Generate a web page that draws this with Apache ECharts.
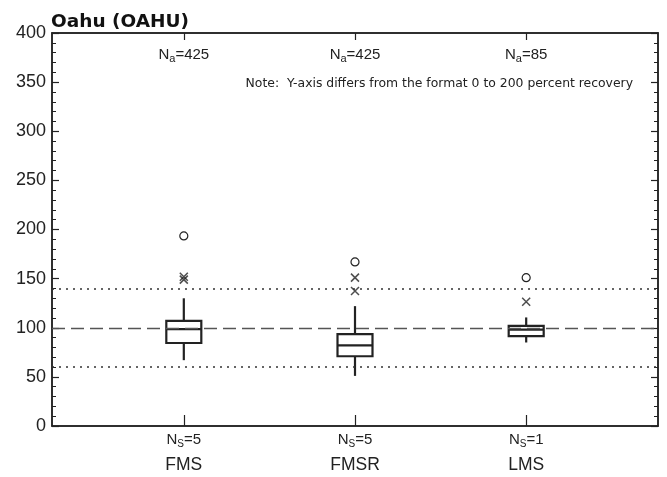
<!DOCTYPE html>
<html>
<head>
<meta charset="utf-8">
<script src="https://cdn.jsdelivr.net/npm/echarts@6/dist/echarts.min.js"></script>
<style>
  html, body { margin: 0; padding: 0; background: #fff; }
  #chart { width: 667px; height: 477px; }
</style>
</head>
<body>
<div id="chart"></div>
<script>
// Percent recovery by sampling method
const categories = ['FMS', 'FMSR', 'LMS'];
const analysisCounts = [425, 425, 85];   // N_a
const siteCounts = [5, 5, 1];            // N_s

// Box statistics per method
const whiskerLow  = [67, 51, 85];
const quartile1   = [84.5, 71, 91.5];
const medians     = [98.5, 82, 98];
const quartile3   = [107, 93.5, 102];
const whiskerHigh = [130, 122, 110.5];

// Outliers: [method index, value]
const crossOutliers  = [[0, 152], [0, 149], [1, 151], [1, 137.5], [2, 126.5]];
const circleOutliers = [[0, 193.5], [1, 167], [2, 151]];

// Reference lines
const targetRecovery = 100;
const recoveryLimits = [60, 140];

const yTicks = { min: 0, max: 400, interval: 50 };

const ink = '#222';
const font = '"Liberation Sans", Arial, sans-serif';
const wideFont = '"DejaVu Sans", sans-serif';
const positions = categories.map((c, i) => i + 1);

const boxData = categories.map((c, i) => [
  positions[i], whiskerLow[i], quartile1[i], medians[i], quartile3[i], whiskerHigh[i]
]);

function renderBox(params, api) {
  const x = api.value(0);
  const pMin = api.coord([x, api.value(1)]);
  const pQ1 = api.coord([x, api.value(2)]);
  const pMed = api.coord([x, api.value(3)]);
  const pQ3 = api.coord([x, api.value(4)]);
  const pMax = api.coord([x, api.value(5)]);
  const half = 17.5;
  const style = { stroke: ink, lineWidth: 2.2, fill: null };
  return {
    type: 'group',
    children: [
      { type: 'line', shape: { x1: pMax[0], y1: pMax[1], x2: pQ3[0], y2: pQ3[1] }, style },
      { type: 'line', shape: { x1: pQ1[0], y1: pQ1[1], x2: pMin[0], y2: pMin[1] }, style },
      { type: 'rect', shape: { x: pQ3[0] - half, y: pQ3[1], width: half * 2, height: pQ1[1] - pQ3[1] }, style },
      { type: 'line', shape: { x1: pMed[0] - half, y1: pMed[1], x2: pMed[0] + half, y2: pMed[1] }, style }
    ]
  };
}

const chart = echarts.init(document.getElementById('chart'), null, { renderer: 'canvas' });

const xCommon = {
  type: 'value',
  min: 0.23,
  max: 3.77,
  splitLine: { show: false },
  axisLine: { show: true, onZero: false, lineStyle: { color: ink, width: 1.5 } }
};

const yCommon = {
  type: 'value',
  min: yTicks.min,
  max: yTicks.max,
  interval: yTicks.interval,
  splitLine: { show: false },
  axisLine: { show: true, onZero: false, lineStyle: { color: ink, width: 1.5 } },
  axisTick: { show: true, inside: true, length: 7, lineStyle: { color: ink, width: 1.2 } },
  minorTick: { show: true, splitNumber: 5, length: 4, lineStyle: { color: ink, width: 1 } }
};

chart.setOption({
  animation: false,
  backgroundColor: '#fff',
  title: {
    text: 'Oahu (OAHU)',
    left: 51,
    top: 13,
    padding: 0,
    textStyle: { fontFamily: wideFont, fontSize: 18.5, fontWeight: 'bold', color: '#111' }
  },
  grid: {
    left: 52, right: 9, top: 33, bottom: 51,
    show: true, borderColor: ink, borderWidth: 1.5, backgroundColor: 'transparent'
  },
  graphic: [{
    type: 'text',
    right: 34,
    top: 78,
    style: {
      text: 'Note:  Y-axis differs from the format 0 to 200 percent recovery',
      font: '12.4px ' + wideFont,
      fill: ink
    }
  }],
  xAxis: [
    Object.assign({}, xCommon, {
      position: 'bottom',
      axisTick: { show: true, inside: true, length: 11, customValues: positions, lineStyle: { color: ink, width: 1.2 } },
      axisLabel: {
        show: true,
        customValues: positions,
        margin: 5,
        formatter: v => {
          const i = Math.round(v) - 1;
          return '{n|N}{s|S}{n|=' + siteCounts[i] + '}\n{c|' + categories[i] + '}';
        },
        rich: {
          n: { fontFamily: font, fontSize: 15, lineHeight: 18, color: ink },
          s: { fontFamily: font, fontSize: 10, lineHeight: 10, verticalAlign: 'bottom', color: ink },
          c: { fontFamily: font, fontSize: 17.5, lineHeight: 32, color: ink }
        }
      }
    }),
    Object.assign({}, xCommon, {
      position: 'top',
      axisTick: { show: true, inside: true, length: 7, customValues: positions, lineStyle: { color: ink, width: 1.2 } },
      axisLabel: {
        show: true,
        inside: true,
        customValues: positions,
        margin: 13,
        formatter: v => {
          const i = Math.round(v) - 1;
          return '{n|N}{s|a}{n|=' + analysisCounts[i] + '}';
        },
        rich: {
          n: { fontFamily: font, fontSize: 15, lineHeight: 18, color: ink },
          s: { fontFamily: font, fontSize: 11, lineHeight: 10, verticalAlign: 'bottom', color: ink }
        }
      }
    })
  ],
  yAxis: [
    Object.assign({}, yCommon, {
      position: 'left',
      axisLabel: { show: true, margin: 6, fontFamily: font, fontSize: 18, color: ink }
    }),
    Object.assign({}, yCommon, {
      position: 'right',
      axisLabel: { show: false }
    })
  ],
  series: [
    {
      type: 'custom',
      name: 'Percent recovery',
      xAxisIndex: 0,
      yAxisIndex: 0,
      renderItem: renderBox,
      encode: { x: 0, y: [1, 2, 3, 4, 5] },
      data: boxData,
      z: 3,
      markLine: {
        silent: true,
        symbol: ['none', 'none'],
        label: { show: false },
        data: [
          { yAxis: targetRecovery, lineStyle: { type: [13, 6], color: '#555', width: 1.3 } },
          { yAxis: recoveryLimits[0], lineStyle: { type: [2, 5], color: '#333', width: 1.6 } },
          { yAxis: recoveryLimits[1], lineStyle: { type: [2, 5], color: '#333', width: 1.6 } }
        ]
      }
    },
    {
      type: 'scatter',
      name: 'Outliers (x)',
      symbol: 'path://M0,0L10,10M10,0L0,10',
      symbolSize: 8,
      itemStyle: { color: 'none', borderColor: ink, borderWidth: 1.5 },
      data: crossOutliers.map(d => [positions[d[0]], d[1]]),
      z: 4
    },
    {
      type: 'scatter',
      name: 'Outliers (o)',
      symbol: 'circle',
      symbolSize: 8,
      itemStyle: { color: '#fff', borderColor: ink, borderWidth: 1.2, opacity: 1 },
      data: circleOutliers.map(d => [positions[d[0]], d[1]]),
      z: 4
    }
  ]
});
</script>
</body>
</html>
